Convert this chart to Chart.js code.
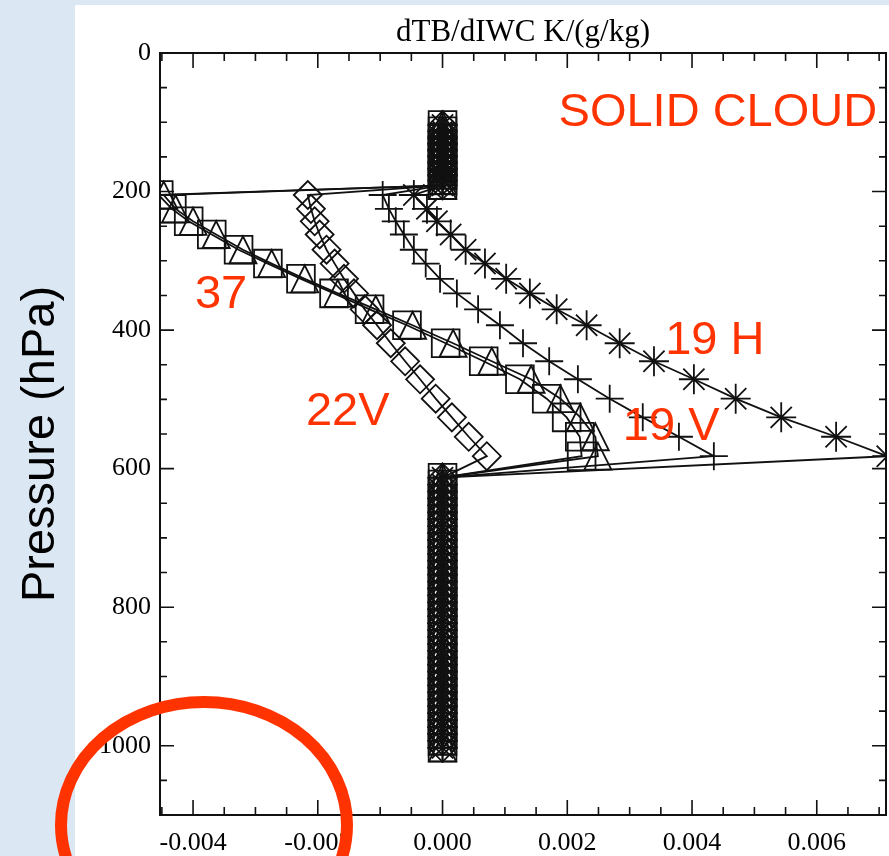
<!DOCTYPE html>
<html>
<head>
<meta charset="utf-8">
<script src="https://cdn.jsdelivr.net/npm/chart.js@4.4.1/dist/chart.umd.min.js"></script>
<style>
  html, body { margin: 0; padding: 0; }
  body { width: 889px; height: 856px; background: #dbe8f4; position: relative; overflow: hidden; }
  #panel { position: absolute; left: 75px; top: 5px; right: 0; bottom: 0; background: #fff; }
  #chart { position: absolute; left: 0; top: 0; }
</style>
</head>
<body>
<div id="panel"></div>
<canvas id="chart" width="889" height="856"></canvas>
<script>
// Pressure levels (hPa): clear air above, the cloud layer, clear air below
const aboveCloudP = [104, 113, 122, 131, 140, 149, 158, 167, 176, 184, 191];
const cloudP = [205, 225, 243, 262, 284, 304, 326, 347, 370, 393, 419, 445, 471, 499, 526, 554, 582];
const belowCloudP = [613, 623, 633, 643, 653, 663, 673, 683, 693, 703, 713, 723, 733, 743, 753, 763,
    773, 783, 793, 803, 813, 823, 833, 843, 853, 863, 873, 883, 893, 903, 913, 923, 933, 943, 953,
    963, 973, 983, 993, 1003];

// dTB/dIWC inside the cloud layer, K/(g/kg); zero outside it
const ch37Square = [-0.00455, -0.00434, -0.00407, -0.00370, -0.00327, -0.00280, -0.00227, -0.00174,
    -0.00117, -0.00057, 0.00005, 0.00066, 0.00124, 0.00167, 0.00199, 0.00220, 0.00223];
const ch37Triangle = [-0.00447, -0.00428, -0.00400, -0.00363, -0.00320, -0.00274, -0.00221, -0.00168,
    -0.00107, -0.00048, 0.00017, 0.00079, 0.00142, 0.00189, 0.00221, 0.00245, 0.00249];
const ch22V = [-0.00216, -0.00211, -0.00205, -0.00197, -0.00186, -0.00173, -0.00158, -0.00142,
    -0.00125, -0.00105, -0.00083, -0.00060, -0.00036, -0.00011, 0.00015, 0.00042, 0.00071];
const ch19V = [-0.00096, -0.00086, -0.00075, -0.00062, -0.00046, -0.00027, -0.00004, 0.00023,
    0.00057, 0.00092, 0.00129, 0.00171, 0.00217, 0.00268, 0.00321, 0.00379, 0.00435];
const ch19H = [-0.00046, -0.00025, -0.00009, 0.00013, 0.00037, 0.00068, 0.00102, 0.00140,
    0.00183, 0.00231, 0.00284, 0.00339, 0.00403, 0.00470, 0.00543, 0.00631, 0.00713];

// axis ticks
const xMajorTicks = [-0.004, -0.002, 0, 0.002, 0.004, 0.006];
const xMinorTicks = [-0.0045, -0.0035, -0.003, -0.0025, -0.0015, -0.001, -0.0005, 0.0005, 0.001,
    0.0015, 0.0025, 0.003, 0.0035, 0.0045, 0.005, 0.0055, 0.0065, 0.007];
const yMajorTicks = [0, 200, 400, 600, 800, 1000];
const yMinorTicks = [50, 100, 150, 250, 300, 350, 450, 500, 550, 650, 700, 750, 850, 900, 950, 1050];

// channel labels, placed in data coordinates (left edge, baseline)
const channelLabels = ['SOLID CLOUD', '37', '19 H', '19 V', '22V'];
const labelX = [0.00186, -0.00397, 0.00357, 0.00289, -0.00219];
const labelP = [106, 368, 434, 558, 537];

const INK = '#111';
const RED = '#ff3300';
const LW = 1.8;
const TRI_HALF = 13.5;

function profile(label, values, style, radius) {
    const data = aboveCloudP.map(p => ({ x: 0, y: p }))
        .concat(cloudP.map((p, i) => ({ x: values[i], y: p })))
        .concat(belowCloudP.map(p => ({ x: 0, y: p })));
    return {
        label: label,
        data: data,
        showLine: true,
        borderColor: INK,
        borderWidth: LW,
        pointStyle: style,
        pointRadius: radius,
        pointBorderColor: INK,
        pointBorderWidth: LW,
        pointBackgroundColor: 'rgba(0,0,0,0)',
    };
}

// frame with inward ticks, the tall open triangles, the red annotations
const framePlugin = {
    id: 'frame',
    beforeDatasetsDraw(chart) {
        const { ctx, chartArea: a, scales: { x, y } } = chart;
        ctx.save();
        ctx.strokeStyle = INK;
        ctx.lineWidth = 2;
        ctx.strokeRect(a.left, a.top, a.right - a.left, a.bottom - a.top);
        ctx.lineWidth = 1.6;
        ctx.beginPath();
        const xTick = (v, len) => {
            const px = x.getPixelForValue(v);
            ctx.moveTo(px, a.bottom); ctx.lineTo(px, a.bottom - len);
            ctx.moveTo(px, a.top); ctx.lineTo(px, a.top + len);
        };
        const yTick = (v, len) => {
            const py = y.getPixelForValue(v);
            ctx.moveTo(a.left, py); ctx.lineTo(a.left + len, py);
            ctx.moveTo(a.right, py); ctx.lineTo(a.right - len, py);
        };
        xMajorTicks.forEach(v => xTick(v, 15));
        xMinorTicks.forEach(v => xTick(v, 8));
        yMajorTicks.forEach(v => yTick(v, 14));
        yMinorTicks.forEach(v => yTick(v, 7));
        ctx.stroke();
        ctx.restore();
    },
    afterDatasetsDraw(chart) {
        const { ctx, chartArea: a, scales: { x, y } } = chart;

        // triangles: apex up, base as wide as the square marker
        ctx.save();
        ctx.beginPath();
        ctx.rect(a.left, a.top, a.right - a.left, a.bottom - a.top);
        ctx.clip();
        ctx.strokeStyle = INK;
        ctx.lineWidth = LW;
        chart.data.datasets.forEach((ds, i) => {
            if (!ds.tallTriangle) return;
            chart.getDatasetMeta(i).data.forEach(pt => {
                ctx.beginPath();
                ctx.moveTo(pt.x - TRI_HALF, pt.y + TRI_HALF);
                ctx.lineTo(pt.x, pt.y - TRI_HALF);
                ctx.lineTo(pt.x + TRI_HALF, pt.y + TRI_HALF);
                ctx.closePath();
                ctx.stroke();
            });
        });
        ctx.restore();

        ctx.save();
        ctx.fillStyle = RED;
        ctx.font = '47px "Liberation Sans"';
        ctx.textAlign = 'left';
        ctx.textBaseline = 'alphabetic';
        channelLabels.forEach((t, i) => {
            ctx.fillText(t, x.getPixelForValue(labelX[i]), y.getPixelForValue(labelP[i]));
        });
        ctx.restore();
    },
    afterDraw(chart) {
        const { ctx } = chart;
        ctx.save();
        // vertical axis title
        ctx.fillStyle = '#000';
        ctx.font = '47px "Liberation Sans"';
        ctx.textAlign = 'center';
        ctx.textBaseline = 'middle';
        ctx.translate(41, 444);
        ctx.rotate(-Math.PI / 2);
        ctx.fillText('Pressure (hPa)', 0, 0);
        ctx.restore();

        // hand-drawn highlight ring at the lower left
        ctx.save();
        ctx.strokeStyle = RED;
        ctx.lineWidth = 12;
        ctx.beginPath();
        ctx.ellipse(204, 825, 143, 123, 0, 0, Math.PI * 2);
        ctx.stroke();
        ctx.restore();
    }
};

const serif = { family: 'Liberation Serif', size: 26 };

const triangles = profile('37 (triangle)', ch37Triangle, 'triangle', 0);
triangles.tallTriangle = true;

new Chart(document.getElementById('chart'), {
    type: 'scatter',
    data: {
        datasets: [
            profile('37 (square)', ch37Square, 'rect', 19.6),
            triangles,
            profile('22V', ch22V, 'rectRot', 14),
            profile('19V', ch19V, 'cross', 14),
            profile('19H', ch19H, 'star', 15),
        ]
    },
    options: {
        responsive: false,
        animation: false,
        layout: { autoPadding: false, padding: { left: 0, right: 3, top: 0, bottom: 0 } },
        plugins: {
            legend: { display: false },
            tooltip: { enabled: false },
            title: {
                display: true,
                fullSize: false,
                text: 'dTB/dIWC K/(g/kg)',
                color: '#000',
                font: { family: 'Liberation Serif', size: 31, weight: 'normal', lineHeight: 1 },
                padding: { top: 17.5, bottom: 4.5 },
            },
        },
        scales: {
            x: {
                type: 'linear',
                min: -0.00453,
                max: 0.00711,
                grid: { display: false },
                border: { display: false },
                afterBuildTicks: s => { s.ticks = xMajorTicks.map(v => ({ value: v })); },
                afterFit: s => { s.height = 41; },
                ticks: {
                    font: serif,
                    color: '#000',
                    padding: 5,
                    maxRotation: 0,
                    autoSkip: false,
                    callback: v => v.toFixed(3),
                },
            },
            y: {
                type: 'linear',
                reverse: true,
                min: 0,
                max: 1100,
                grid: { display: false },
                border: { display: false },
                afterBuildTicks: s => { s.ticks = yMajorTicks.map(v => ({ value: v })); },
                afterFit: s => { s.width = 160; },
                ticks: {
                    font: serif,
                    color: '#000',
                    padding: 1,
                    autoSkip: false,
                    callback: v => String(v),
                },
            },
        },
    },
    plugins: [framePlugin],
});
</script>
</body>
</html>
